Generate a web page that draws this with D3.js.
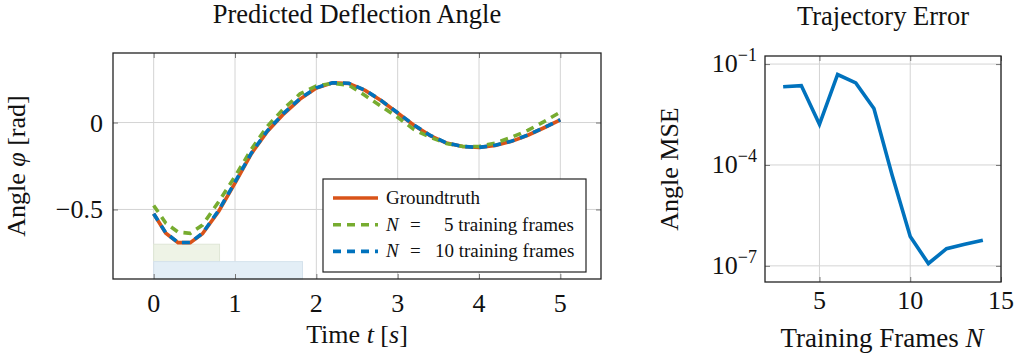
<!DOCTYPE html>
<html>
<head>
<meta charset="utf-8">
<script src="https://d3js.org/d3.v7.min.js"></script>
<style>
  body { margin: 0; background: white; }
  text { font-family: "Liberation Serif", "Times New Roman", serif; fill: #111; }
  .grid line { stroke: #d4d4d4; stroke-width: 1; }
  .tk line { stroke: #777; stroke-width: 1; }
  .tk path { display: none; }
</style>
</head>
<body>
<svg width="1014" height="356"></svg>
<script>
// deflection angle
var times = [0, 0.15, 0.3, 0.45, 0.6, 0.8, 1.0, 1.2, 1.4, 1.6, 1.8, 2.0, 2.2, 2.4, 2.6, 2.8,
             3.0, 3.2, 3.4, 3.6, 3.8, 4.0, 4.2, 4.4, 4.6, 4.8, 5.0];
var groundtruth = [-0.525, -0.637, -0.691, -0.691, -0.64, -0.51, -0.348, -0.18, -0.05, 0.05, 0.135,
                   0.198, 0.228, 0.225, 0.185, 0.125, 0.055, -0.015, -0.075, -0.118, -0.138, -0.143,
                   -0.132, -0.108, -0.073, -0.03, 0.015];
var pred5 = [-0.477, -0.579, -0.63, -0.637, -0.59, -0.455, -0.31, -0.155, -0.02, 0.08, 0.165,
             0.21, 0.226, 0.215, 0.155, 0.092, 0.03, -0.04, -0.085, -0.12, -0.138, -0.138,
             -0.118, -0.085, -0.045, 0.005, 0.06];
var pred10 = [-0.525, -0.635, -0.69, -0.69, -0.637, -0.505, -0.343, -0.176, -0.046, 0.054, 0.138,
              0.2, 0.229, 0.226, 0.186, 0.126, 0.056, -0.014, -0.074, -0.117, -0.138, -0.143,
              -0.131, -0.107, -0.072, -0.029, 0.016];
// training windows shown as shaded bands
var bandEnds = [0.81, 1.83];
var bandLows = [-0.8, -0.9];
var bandHighs = [-0.7, -0.8];

var xTicksL = [0, 1, 2, 3, 4, 5];
var yTicksL = [-0.5, 0];

// trajectory error vs training frames
var frames = [3, 4, 5, 6, 7, 8, 9, 10, 11, 12, 13, 14];
var mseLog = [-1.675, -1.64, -2.79, -1.31, -1.56, -2.32, -4.3, -6.13, -6.93, -6.49, -6.36, -6.24];
var xTicksR = [5, 10, 15];
var yTicksR = [-1, -4, -7];

var cRed = '#D95319', cGreen = '#77AC30', cBlue = '#0072BD';

var svg = d3.select('svg');

// ---------- left panel ----------
var L = {x0: 113, x1: 601, y0: 53, y1: 279};
var x = d3.scaleLinear().domain([-0.5, 5.5]).range([L.x0, L.x1]);
var y = d3.scaleLinear().domain([-0.9, 0.4]).range([L.y1, L.y0]);

var gl = svg.append('g');
gl.append('g').attr('class', 'grid').selectAll('line').data(xTicksL).enter().append('line')
  .attr('x1', d => x(d)).attr('x2', d => x(d)).attr('y1', L.y0).attr('y2', L.y1);
gl.append('g').attr('class', 'grid').selectAll('line').data(yTicksL).enter().append('line')
  .attr('y1', d => y(d)).attr('y2', d => y(d)).attr('x1', L.x0).attr('x2', L.x1);

// shaded bands
gl.selectAll('rect.band').data(bandEnds).enter().append('rect')
  .attr('x', x(0)).attr('width', d => x(d) - x(0))
  .attr('y', (d, i) => y(bandHighs[i])).attr('height', (d, i) => y(bandLows[i]) - y(bandHighs[i]))
  .attr('fill', (d, i) => i == 0 ? '#eef3e6' : '#e3eef6')
  .attr('stroke', (d, i) => i == 0 ? '#dfe6d6' : '#d5e2ec').attr('stroke-width', 1);

// inner tick marks
gl.append('g').attr('class', 'tk').attr('transform', 'translate(0,' + L.y1 + ')')
  .call(d3.axisBottom(x).tickValues(xTicksL).tickSize(-5).tickFormat(''));
gl.append('g').attr('class', 'tk').attr('transform', 'translate(0,' + L.y0 + ')')
  .call(d3.axisTop(x).tickValues(xTicksL).tickSize(-5).tickFormat(''));
gl.append('g').attr('class', 'tk').attr('transform', 'translate(' + L.x0 + ',0)')
  .call(d3.axisLeft(y).tickValues(yTicksL).tickSize(-5).tickFormat(''));
gl.append('g').attr('class', 'tk').attr('transform', 'translate(' + L.x1 + ',0)')
  .call(d3.axisRight(y).tickValues(yTicksL).tickSize(-5).tickFormat(''));

var line = d3.line().x((d, i) => x(times[i])).y(d => y(d));
gl.append('path').datum(groundtruth).attr('d', line).attr('fill', 'none')
  .attr('stroke', cRed).attr('stroke-width', 3.6);
gl.append('path').datum(pred5).attr('d', line).attr('fill', 'none')
  .attr('stroke', cGreen).attr('stroke-width', 3.6).attr('stroke-dasharray', '8,6');
gl.append('path').datum(pred10).attr('d', line).attr('fill', 'none')
  .attr('stroke', cBlue).attr('stroke-width', 3.6).attr('stroke-dasharray', '8,6');

gl.append('rect').attr('x', L.x0).attr('y', L.y0).attr('width', L.x1 - L.x0).attr('height', L.y1 - L.y0)
  .attr('fill', 'none').attr('stroke', '#222').attr('stroke-width', 1.3);

// tick labels
gl.selectAll('text.xt').data(xTicksL).enter().append('text')
  .attr('x', d => x(d)).attr('y', 312).attr('text-anchor', 'middle')
  .style('font-size', '26px').text(d => d);
gl.selectAll('text.yt').data(yTicksL).enter().append('text')
  .attr('x', 103).attr('y', d => y(d) + 9).attr('text-anchor', 'end')
  .style('font-size', '26px').text(d => d == 0 ? '0' : '\u22120.5');

// legend
var lg = gl.append('g');
lg.append('rect').attr('x', 323).attr('y', 179).attr('width', 263).attr('height', 93)
  .attr('fill', 'white').attr('stroke', '#222').attr('stroke-width', 1.2);
var legRows = [
  {c: cRed, dash: null, parts: [['Groundtruth', 'normal', 386]]},
  {c: cGreen, dash: '8,6', parts: [['N', 'italic', 386], ['=', 'normal', 410], ['5 training frames', 'normal', 444]]},
  {c: cBlue, dash: '8,6', parts: [['N', 'italic', 386], ['=', 'normal', 410], ['10 training frames', 'normal', 435]]}
];
legRows.forEach(function (r, i) {
  var yy = 198 + i * 26.7;
  lg.append('line').attr('x1', 333).attr('x2', 378).attr('y1', yy).attr('y2', yy)
    .attr('stroke', r.c).attr('stroke-width', 3.6).attr('stroke-dasharray', r.dash);
  var t = lg.append('text').attr('y', yy + 6).style('font-size', '19px');
  r.parts.forEach(function (p) { t.append('tspan').attr('x', p[2]).style('font-style', p[1]).text(p[0]); });
});

// titles and axis labels
svg.append('text').attr('x', (L.x0 + L.x1) / 2).attr('y', 23).attr('text-anchor', 'middle')
  .style('font-size', '26.5px').text('Predicted Deflection Angle');
var xl = svg.append('text').attr('x', (L.x0 + L.x1) / 2).attr('y', 343).attr('text-anchor', 'middle')
  .style('font-size', '26px');
xl.append('tspan').text('Time ');
xl.append('tspan').style('font-style', 'italic').text('t');
xl.append('tspan').text(' [');
xl.append('tspan').style('font-style', 'italic').text('s');
xl.append('tspan').text(']');
var yl = svg.append('text').attr('transform', 'translate(25,' + (L.y0 + L.y1) / 2 + ') rotate(-90)')
  .attr('text-anchor', 'middle').style('font-size', '26px');
yl.append('tspan').text('Angle ');
yl.append('tspan').style('font-style', 'italic').text('\u03C6');
yl.append('tspan').text(' [rad]');

// ---------- right panel ----------
var R = {x0: 765, x1: 1001, y0: 56, y1: 282};
var xr = d3.scaleLinear().domain([2, 15]).range([R.x0, R.x1]);
var yr = d3.scaleLinear().domain([-7.48, -0.76]).range([R.y1, R.y0]);

var gr = svg.append('g');
gr.append('g').attr('class', 'grid').selectAll('line').data(xTicksR).enter().append('line')
  .attr('x1', d => xr(d)).attr('x2', d => xr(d)).attr('y1', R.y0).attr('y2', R.y1);
gr.append('g').attr('class', 'grid').selectAll('line').data(yTicksR).enter().append('line')
  .attr('y1', d => yr(d)).attr('y2', d => yr(d)).attr('x1', R.x0).attr('x2', R.x1);
gr.append('g').attr('class', 'tk').attr('transform', 'translate(0,' + R.y1 + ')')
  .call(d3.axisBottom(xr).tickValues(xTicksR).tickSize(-5).tickFormat(''));
gr.append('g').attr('class', 'tk').attr('transform', 'translate(0,' + R.y0 + ')')
  .call(d3.axisTop(xr).tickValues(xTicksR).tickSize(-5).tickFormat(''));
gr.append('g').attr('class', 'tk').attr('transform', 'translate(' + R.x0 + ',0)')
  .call(d3.axisLeft(yr).tickValues(yTicksR).tickSize(-5).tickFormat(''));
gr.append('g').attr('class', 'tk').attr('transform', 'translate(' + R.x1 + ',0)')
  .call(d3.axisRight(yr).tickValues(yTicksR).tickSize(-5).tickFormat(''));

var liner = d3.line().x((d, i) => xr(frames[i])).y(d => yr(d));
gr.append('path').datum(mseLog).attr('d', liner).attr('fill', 'none')
  .attr('stroke', cBlue).attr('stroke-width', 3.6).attr('stroke-linejoin', 'miter');

gr.append('rect').attr('x', R.x0).attr('y', R.y0).attr('width', R.x1 - R.x0).attr('height', R.y1 - R.y0)
  .attr('fill', 'none').attr('stroke', '#222').attr('stroke-width', 1.3);

gr.selectAll('text.xt').data(xTicksR).enter().append('text')
  .attr('x', d => xr(d)).attr('y', 309).attr('text-anchor', 'middle')
  .style('font-size', '26px').text(d => d);
yTicksR.forEach(function (e) {
  var t = gr.append('text').attr('x', 757).attr('y', yr(e) + 8).attr('text-anchor', 'end')
    .style('font-size', '26px');
  t.append('tspan').text('10');
  t.append('tspan').attr('dy', -11).style('font-size', '18px').text('\u2212' + (-e));
});

svg.append('text').attr('x', (R.x0 + R.x1) / 2).attr('y', 25).attr('text-anchor', 'middle')
  .style('font-size', '26.5px').text('Trajectory Error');
var xl2 = svg.append('text').attr('x', 882).attr('y', 347).attr('text-anchor', 'middle')
  .style('font-size', '27px');
xl2.append('tspan').text('Training Frames ');
xl2.append('tspan').style('font-style', 'italic').text('N');
svg.append('text').attr('transform', 'translate(678,' + (R.y0 + R.y1) / 2 + ') rotate(-90)')
  .attr('text-anchor', 'middle').style('font-size', '26px').text('Angle MSE');
</script>
</body>
</html>
